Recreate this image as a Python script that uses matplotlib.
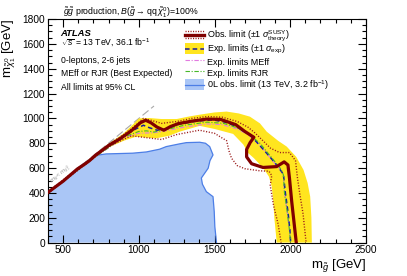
import matplotlib
matplotlib.use("Agg")
import matplotlib.pyplot as plt
from matplotlib.lines import Line2D
from matplotlib.patches import Patch, Rectangle
from matplotlib.legend_handler import HandlerBase
from matplotlib.ticker import MultipleLocator

plt.rcParams['font.family'] = ['Liberation Sans', 'DejaVu Sans']
plt.rcParams['mathtext.fontset'] = 'custom'
plt.rcParams['mathtext.rm'] = 'Liberation Sans'
plt.rcParams['mathtext.it'] = 'Liberation Sans:italic'
plt.rcParams['mathtext.bf'] = 'Liberation Sans:bold'

# ---------------- data ----------------
obs_x = [400, 500, 594, 640, 672, 716, 805, 871, 950, 1010, 1045, 1080, 1120, 1165, 1210, 1260, 1350,
         1450, 1540, 1640, 1700, 1760, 1735, 1712, 1712, 1745, 1820, 1910, 1960, 1985, 1995, 2010, 2030, 2040]
obs_y = [405, 495, 593, 630, 658, 706, 786, 832, 900, 965, 985, 965, 930, 905, 935, 958, 978,
         995, 992, 950, 895, 848, 805, 750, 690, 635, 605, 612, 650, 625, 520, 330, 110, 0]

obs_up_x = [400, 600, 700, 800, 900, 980, 1030, 1080, 1150, 1250, 1350, 1450, 1550, 1650, 1720, 1770,
            1820, 1870, 1930, 1995, 2035, 2048, 2065, 2085, 2105]
obs_up_y = [410, 600, 690, 790, 870, 945, 1000, 985, 960, 975, 1000, 1015, 1010, 975, 930, 880,
            820, 760, 725, 725, 660, 520, 380, 230, 0]

obs_dn_x = [400, 600, 700, 800, 880, 950, 1050, 1150, 1250, 1400, 1500, 1580, 1595, 1612, 1650, 1700,
            1800, 1860, 1878, 1868, 1890, 1920, 1940]
obs_dn_y = [400, 585, 680, 775, 820, 860, 845, 830, 870, 905, 880, 820, 740, 680, 620, 595,
            578, 575, 540, 460, 300, 150, 0]

exp_x = [400, 600, 700, 800, 900, 980, 1030, 1070, 1120, 1180, 1270, 1380, 1490, 1570, 1645, 1734,
         1778, 1830, 1880, 1920, 1955, 1968, 1985, 1998, 2003]
exp_y = [400, 590, 685, 775, 860, 915, 945, 925, 905, 915, 955, 978, 988, 970, 934, 867,
         810, 740, 670, 610, 550, 400, 250, 100, 0]

band_up_x = [400, 600, 700, 800, 900, 960, 1000, 1070, 1150, 1250, 1330, 1402, 1500, 1580, 1660, 1734,
             1800, 1845, 1920, 1977, 2040, 2088, 2115, 2132, 2140, 2143]
band_up_y = [405, 600, 700, 795, 880, 950, 1000, 1003, 995, 995, 1015, 1030, 1048, 1055, 1040, 1014,
             960, 893, 820, 773, 690, 585, 480, 370, 200, 0]
band_dn_x = [400, 600, 700, 800, 900, 982, 1050, 1115, 1200, 1269, 1402, 1500, 1623, 1690, 1723, 1760,
             1822, 1860, 1878, 1889, 1895, 1911]
band_dn_y = [395, 585, 675, 765, 820, 853, 845, 840, 860, 893, 940, 915, 875, 790, 720, 680,
             600, 530, 451, 317, 200, 0]

meff_x = [400, 700, 900, 1000, 1100, 1200, 1300, 1450, 1550, 1650, 1720, 1770, 1830, 1890, 1940, 1955,
          1962, 1980, 1995, 2002]
meff_y = [400, 680, 845, 880, 885, 905, 930, 955, 950, 915, 870, 820, 740, 650, 580, 545,
          400, 250, 100, 0]

rjr_x = [400, 700, 900, 1000, 1050, 1100, 1200, 1300, 1450, 1560, 1650, 1740, 1800, 1880, 1940, 1955,
         1962, 1980, 1995, 2002]
rjr_y = [400, 680, 850, 895, 900, 890, 915, 945, 970, 960, 925, 860, 800, 680, 590, 545,
         400, 250, 100, 0]

old_x = [400, 400, 500, 588, 640, 687, 738, 783, 959, 1050, 1137, 1181, 1269, 1314, 1402, 1440, 1468,
         1490, 1470, 1458, 1413, 1420, 1446, 1490, 1498, 1502, 1513]
old_y = [0, 406, 490, 591, 640, 680, 706, 714, 720, 730, 752, 773, 795, 805, 808, 800, 773,
         706, 660, 599, 520, 470, 410, 370, 250, 129, 0]

diag_x = [400, 1100]
diag_y = [400, 1100]

x_ticks = [500, 1000, 1500, 2000, 2500]
y_ticks = [0, 200, 400, 600, 800, 1000, 1200, 1400, 1600, 1800]

# ---------------- colors ----------------
c_obs = '#800000'
c_dot = '#9b1b1b'
c_exp = '#1a1a9c'
c_band = '#ffe51f'
c_meff = '#e27be0'
c_rjr = '#48b828'
c_old_fill = '#aac6f6'
c_old_line = '#4c7ee6'

fig = plt.figure(figsize=(4.07, 2.76), dpi=100)
ax = fig.add_axes([0.118, 0.121, 0.781, 0.810])

ax.fill(old_x, old_y, color=c_old_fill, lw=0, zorder=1)
ax.plot(old_x[1:], old_y[1:], color=c_old_line, lw=0.9, zorder=2)

ax.fill(band_up_x + band_dn_x[::-1], band_up_y + band_dn_y[::-1], color=c_band, lw=0, zorder=3)

ax.plot(diag_x, diag_y, color='#a8a8a8', lw=0.8, ls=(0, (7, 3)), zorder=2)
ax.text(482, 548, r'$m_{\tilde{g}} < m_{\tilde{\chi}^0_1}$', fontsize=4.5, color='#999999',
        rotation=39.5, ha='center', va='center', zorder=2)

ax.plot(meff_x, meff_y, color=c_meff, lw=0.8, ls=(0, (4, 1.5, 1, 1.5)), zorder=4)
ax.plot(exp_x, exp_y, color=c_exp, lw=1.1, ls=(0, (3, 2)), zorder=5)
ax.plot(rjr_x, rjr_y, color=c_rjr, lw=0.8, ls=(0, (4, 1.5, 1, 1.5)), zorder=6)
ax.plot(obs_up_x, obs_up_y, color=c_dot, lw=1.0, ls=(0, (0.8, 1.2)), zorder=7)
ax.plot(obs_dn_x, obs_dn_y, color=c_dot, lw=1.0, ls=(0, (0.8, 1.2)), zorder=7)
ax.plot(obs_x, obs_y, color=c_obs, lw=2.3, zorder=8, solid_joinstyle='round')

ax.set_xlim(400, 2500)
ax.set_ylim(0, 1800)
ax.set_xticks(x_ticks)
ax.set_yticks(y_ticks)
ax.xaxis.set_minor_locator(MultipleLocator(100))
ax.yaxis.set_minor_locator(MultipleLocator(50))
ax.tick_params(which='both', direction='in', top=True, right=True, labelsize=7.3, pad=2)
ax.tick_params(which='major', length=6, width=0.8)
ax.tick_params(which='minor', length=3, width=0.8)
for s in ax.spines.values():
    s.set_linewidth(0.8)

ax.set_xlabel(r'm$_{\tilde{g}}$ [GeV]', fontsize=9.5, loc='right', labelpad=1)
ax.set_ylabel(r'm$_{\tilde{\chi}^0_1}$ [GeV]', fontsize=9.5, loc='top', labelpad=3)

fig.text(0.155, 0.978, r'$\tilde{g}\tilde{g}$ production, $B(\tilde{g}\rightarrow \mathrm{qq}\;\tilde{\chi}^0_1)$=100%',
         fontsize=6.3, ha='left', va='top')

tx = 0.149
ax.text(tx, 0.879, 'ATLAS', transform=fig.transFigure, fontsize=6.8, fontweight='bold', style='italic', va='center')
ax.text(tx, 0.843, r'$\sqrt{s}$ = 13 TeV, 36.1 fb$^{-1}$', transform=fig.transFigure, fontsize=6.2, va='center')
ax.text(tx, 0.780, '0-leptons, 2-6 jets', transform=fig.transFigure, fontsize=6.2, va='center')
ax.text(tx, 0.732, 'MEff or RJR (Best Expected)', transform=fig.transFigure, fontsize=6.2, va='center')
ax.text(tx, 0.684, 'All limits at 95% CL', transform=fig.transFigure, fontsize=6.2, va='center')


class HandlerObs(HandlerBase):
    def create_artists(self, legend, orig_handle, xdescent, ydescent, width, height, fontsize, trans):
        y0 = height / 2 - ydescent
        arts = []
        for dy, lw, ls, col in [(2.6, 1.0, (0, (0.8, 1.0)), c_dot), (-2.6, 1.0, (0, (0.8, 1.0)), c_dot),
                                (0, 2.4, '-', c_obs)]:
            l = Line2D([-xdescent, -xdescent + width], [y0 + dy, y0 + dy], color=col, lw=lw, ls=ls)
            l.set_transform(trans)
            arts.append(l)
        return arts


class HandlerBandLine(HandlerBase):
    def __init__(self, fill, line, ls, lw):
        super().__init__()
        self.fill, self.line, self.ls, self.lw = fill, line, ls, lw

    def create_artists(self, legend, orig_handle, xdescent, ydescent, width, height, fontsize, trans):
        y0 = height / 2 - ydescent
        r = Rectangle((-xdescent, y0 - 4), width, 8, facecolor=self.fill, lw=0, transform=trans)
        l = Line2D([-xdescent, -xdescent + width], [y0, y0], color=self.line, lw=self.lw, ls=self.ls)
        l.set_transform(trans)
        return [r, l]


h_obs = Line2D([], [], color=c_obs)
h_exp = Patch(color=c_band)
h_meff = Line2D([], [], color=c_meff, lw=0.8, ls=(0, (4, 1.5, 1, 1.5)))
h_rjr = Line2D([], [], color=c_rjr, lw=0.8, ls=(0, (4, 1.5, 1, 1.5)))
h_old = Patch(color=c_old_fill)

labels = [r'Obs. limit ($\pm1\;\sigma^{\mathrm{SUSY}}_{\mathrm{theory}}$)',
          r'Exp. limits ($\pm1\;\sigma_{\mathrm{exp}}$)',
          'Exp. limits MEff',
          'Exp. limits RJR',
          r'0L obs. limit (13 TeV, 3.2 fb$^{-1}$)']

leg = ax.legend([h_obs, h_exp, h_meff, h_rjr, h_old], labels,
                handler_map={h_obs: HandlerObs(),
                             h_exp: HandlerBandLine(c_band, c_exp, (0, (3, 2)), 1.1),
                             h_old: HandlerBandLine(c_old_fill, c_old_line, '-', 0.9)},
                loc='upper left', bbox_to_anchor=(0.455, 0.898), bbox_transform=fig.transFigure,
                frameon=False, fontsize=6.5, handlelength=2.1, handleheight=1.5,
                handletextpad=0.35, labelspacing=0.0, borderpad=0, borderaxespad=0)
leg.set_zorder(20)

fig.savefig('out.png', dpi=100)
